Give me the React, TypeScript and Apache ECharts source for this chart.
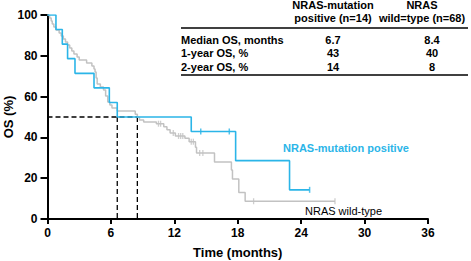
import React, { useEffect, useRef } from "react";
import * as echarts from "echarts";

// ---- data ----
const blueEvents: number[][] = [
  [0.8, 92.9], [1.4, 85.7], [1.9, 78.6], [2.6, 71.4], [4.4, 64.3],
  [5.85, 57.1], [6.6, 50.0], [13.6, 42.9], [17.8, 28.6], [22.9, 14.3],
];
const blueEnd = 24.8;
const blueCensors: number[][] = [[14.5, 42.9], [17.2, 42.9], [24.8, 14.3]];

const grayEvents: number[][] = [
  [0.2, 98.5], [0.35, 97.1], [0.45, 95.6], [0.6, 94.1], [0.8, 92.6], [1.1, 91.2],
  [1.3, 89.7], [1.5, 88.2], [1.7, 86.8], [1.9, 85.3], [2.1, 83.8], [2.3, 82.4],
  [2.5, 80.9], [2.8, 79.4], [3.0, 77.9], [3.7, 76.5], [4.2, 75.0], [4.4, 73.5],
  [4.5, 72.1], [4.6, 69.1], [4.7, 66.2], [5.0, 64.7], [5.3, 63.2], [5.5, 60.3],
  [5.7, 57.4], [5.9, 55.9], [6.1, 54.4], [6.6, 52.9], [8.3, 51.4], [8.5, 49.9],
  [8.7, 48.5], [9.1, 47.6], [10.3, 46.7], [11.0, 45.2], [11.3, 43.7], [11.6, 42.2],
  [12.1, 40.7], [13.0, 39.6], [13.4, 37.9], [14.0, 35.2], [14.1, 32.4], [15.8, 28.0],
  [17.4, 24.0], [17.5, 19.6], [18.1, 13.0], [18.7, 8.7],
];
const grayEnd = 27.2;
const grayCensors: number[][] = [
  [10.5, 46.7], [10.7, 46.7], [11.9, 42.2], [12.4, 40.7], [12.6, 40.7], [12.8, 40.7],
  [13.6, 37.9], [13.8, 37.9], [14.4, 32.4], [14.7, 32.4], [19.5, 8.7], [27.2, 8.7],
];

const medians = [6.6, 8.5];
const medianLevel = 50;

const tableHeaders = [["NRAS-mutation", "positive (n=14)"], ["NRAS", "wild=type (n=68)"]];
const rowLabels = ["Median OS, months", "1-year OS, %", "2-year OS, %"];
const colMutation = ["6.7", "43", "14"];
const colWild = ["8.4", "40", "8"];

const BLUE = "#2BB5E8";
const GRAY = "#c2c2c2";
const FONT = "Liberation Sans, Arial, Helvetica, sans-serif";

function kmPoints(events: number[][], end: number): number[][] {
  const pts: number[][] = [[0, 100]];
  let s = 100;
  for (const [t, v] of events) {
    pts.push([t, s]);
    pts.push([t, v]);
    s = v;
  }
  pts.push([end, s]);
  return pts;
}

export default function App() {
  const ref = useRef<HTMLDivElement>(null);
  useEffect(() => {
    document.body.style.margin = "0";
    const chart = echarts.init(ref.current!, null, { renderer: "svg" });
    const graphic: any[] = [];
    const colX = [333, 422];
    tableHeaders.forEach((h, i) => {
      h.forEach((line, j) => {
        graphic.push({
          type: "text",
          style: {
            x: colX[i], y: 5 + j * 12.5, text: line, fill: "#000",
            font: `bold 11px ${FONT}`, align: "center", verticalAlign: "middle",
          },
        });
      });
    });
    graphic.push({ type: "line", shape: { x1: 181, y1: 28, x2: 468, y2: 28 }, style: { stroke: "#000", lineWidth: 1.5 } });
    graphic.push({ type: "line", shape: { x1: 181, y1: 75, x2: 468, y2: 75 }, style: { stroke: "#000", lineWidth: 1.5 } });
    rowLabels.forEach((r, k) => {
      const y = 40 + k * 13.3;
      graphic.push({ type: "text", style: { x: 181, y, text: r, fill: "#000", font: `bold 11px ${FONT}`, align: "left", verticalAlign: "middle" } });
      graphic.push({ type: "text", style: { x: 333, y, text: colMutation[k], fill: "#000", font: `bold 11px ${FONT}`, align: "center", verticalAlign: "middle" } });
      graphic.push({ type: "text", style: { x: 432, y, text: colWild[k], fill: "#000", font: `bold 11px ${FONT}`, align: "center", verticalAlign: "middle" } });
    });
    graphic.push({ type: "text", style: { x: 283, y: 148, text: "NRAS-mutation positive", fill: BLUE, font: `bold 11px ${FONT}`, align: "left", verticalAlign: "middle" } });
    graphic.push({ type: "text", style: { x: 305, y: 211, text: "NRAS wild-type", fill: "#000", font: `11px ${FONT}`, align: "left", verticalAlign: "middle" } });
    graphic.push({
      type: "text", x: 8, y: 117, rotation: Math.PI / 2,
      style: { x: 0, y: 0, text: "OS (%)", fill: "#000", font: `bold 13px ${FONT}`, align: "center", verticalAlign: "middle" },
    });

    const dashStyle = { color: "#000", width: 1.3, type: [5, 3] as any };
    chart.setOption({
      animation: false,
      grid: { left: 47.5, right: 43, top: 15, bottom: 42, outerBoundsMode: "none" } as any,
      xAxis: {
        type: "value", min: 0, max: 36, interval: 6,
        name: "Time (months)", nameLocation: "middle", nameGap: 27,
        nameTextStyle: { fontFamily: FONT, fontWeight: "bold", fontSize: 13, color: "#000" },
        axisLine: { lineStyle: { color: "#000", width: 2 } },
        axisTick: { length: 5, lineStyle: { width: 2, color: "#000" } },
        axisLabel: { margin: 8, fontFamily: FONT, fontWeight: "bold", fontSize: 12, color: "#000" },
        splitLine: { show: false },
      },
      yAxis: {
        type: "value", min: 0, max: 100, interval: 20,
        axisLine: { show: true, lineStyle: { color: "#000", width: 2 } },
        axisTick: { show: true, length: 7, lineStyle: { width: 2, color: "#000" } },
        axisLabel: { margin: 10, fontFamily: FONT, fontWeight: "bold", fontSize: 12, color: "#000" },
        splitLine: { show: false },
      },
      series: [
        { type: "line", data: [[0, medianLevel], [medians[1], medianLevel]], symbol: "none", lineStyle: dashStyle, silent: true },
        { type: "line", data: [[medians[0], medianLevel], [medians[0], 0]], symbol: "none", lineStyle: dashStyle, silent: true },
        { type: "line", data: [[medians[1], medianLevel], [medians[1], 0]], symbol: "none", lineStyle: dashStyle, silent: true },
        { type: "line", data: kmPoints(grayEvents, grayEnd), symbol: "none", lineStyle: { color: GRAY, width: 1.5 }, silent: true },
        { type: "scatter", data: grayCensors, symbol: "rect", symbolSize: [1.3, 6], itemStyle: { color: GRAY }, silent: true },
        { type: "line", data: kmPoints(blueEvents, blueEnd), symbol: "none", lineStyle: { color: BLUE, width: 1.6 }, silent: true },
        { type: "scatter", data: blueCensors, symbol: "rect", symbolSize: [1.5, 6], itemStyle: { color: BLUE }, silent: true },
      ],
      graphic,
    });
    return () => chart.dispose();
  }, []);
  return <div ref={ref} style={{ width: 471, height: 261 }} />;
}
